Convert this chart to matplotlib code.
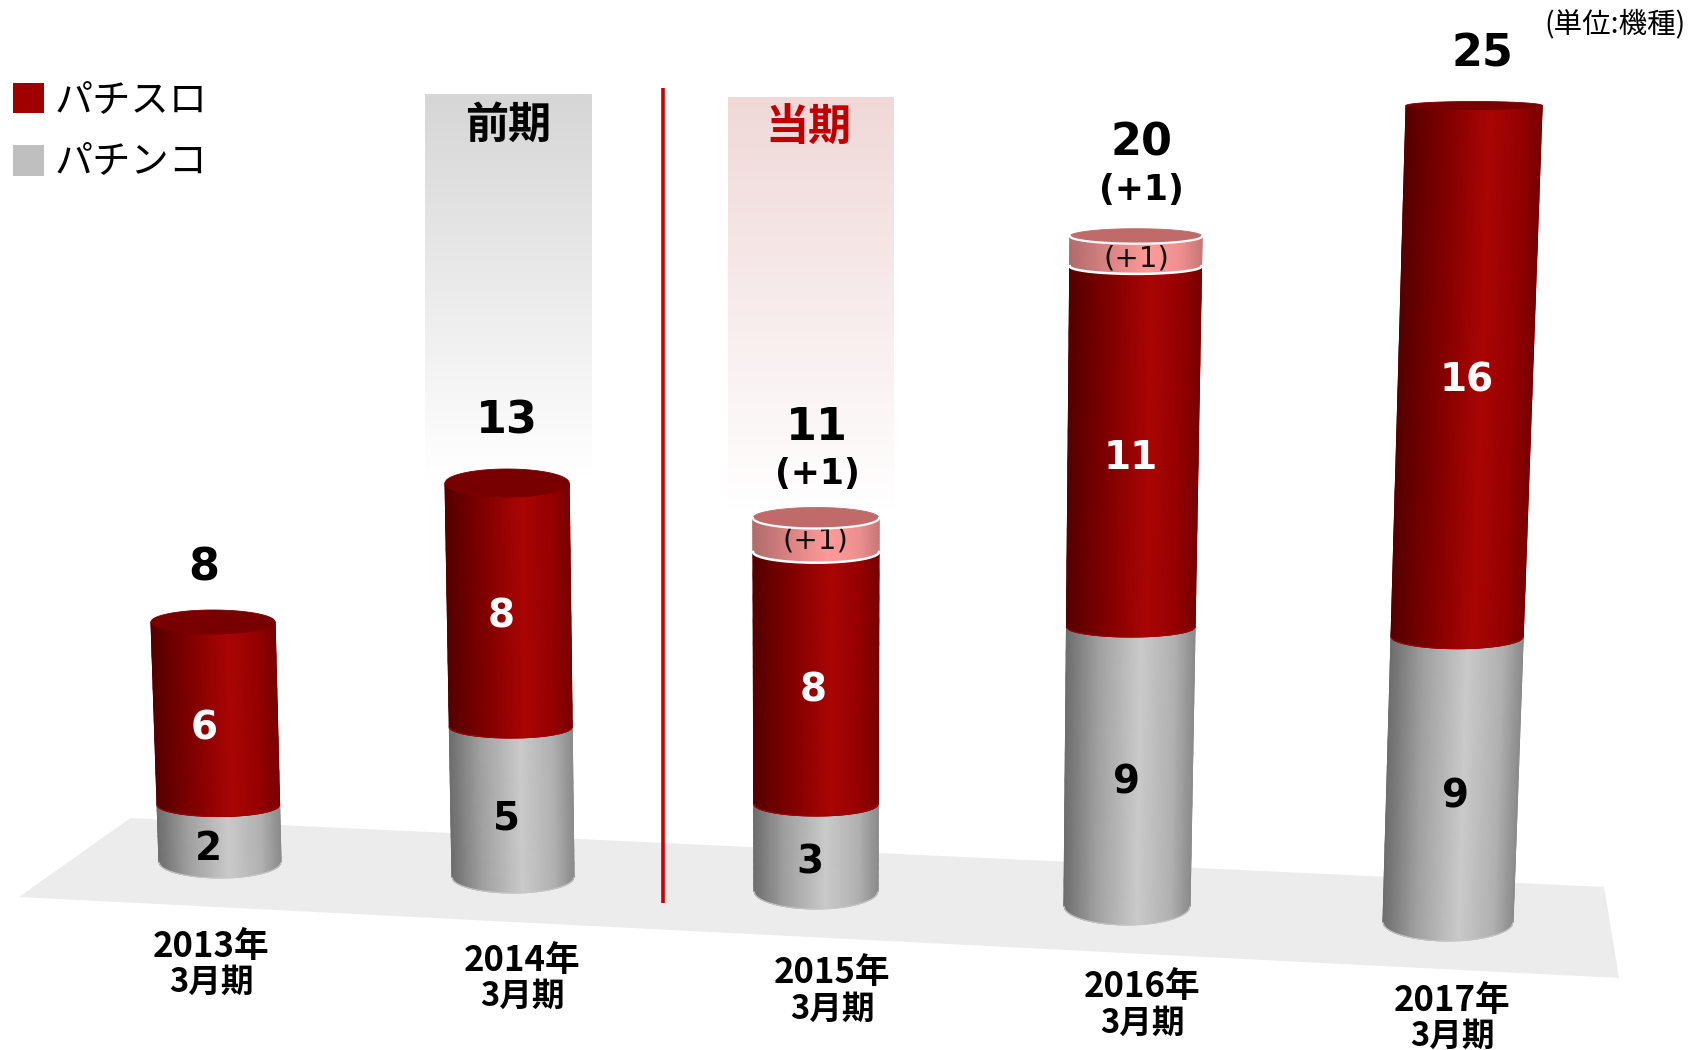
import numpy as np
import matplotlib
matplotlib.use('Agg')
import matplotlib.pyplot as plt
from matplotlib.colors import LinearSegmentedColormap
from matplotlib.patches import Rectangle

JP = ['Noto Sans CJK JP', 'DejaVu Sans']

# machine counts per fiscal year
years = ['2013年', '2014年', '2015年', '2016年', '2017年']
pachinko = [2, 5, 3, 9, 9]
pachislot = [6, 8, 8, 11, 16]
planned = [0, 0, 1, 1, 0]
totals = [8, 13, 11, 20, 25]

# cylinder geometry, the columns stand on a tilted floor
base_x = [220, 513, 816, 1127, 1448]
base_y = [862, 877, 891, 906, 922]
lean = [-0.029, -0.015, 0.0, 0.0135, 0.032]
base_rx = [61, 61, 62, 63, 65]
top_rx = [62, 62, 63, 66, 68]
base_ry = [16, 16, 18, 19, 19]
mid_ry = [11.5, 11, 12, 10, 12]
top_ry = [12, 14, 10.5, 7.5, 4]
gray_unit = [28.5, 30, 29, 31, 31.7]
red_unit = [30.5, 30.5, 31.5, 32.8, 33.2]
pink_unit = [0, 0, 34, 30, 0]

# label positions
total_pos = [(204, 568), (507, 421), (817, 428), (1141, 143), (1482, 54)]
plus_pos = [None, None, (817, 474), (1141, 190), None]
gray_pos = [(208, 849), (506, 818), (810, 863), (1126, 782), (1455, 796)]
red_pos = [(204, 729), (501, 616), (813, 690), (1131, 458), (1467, 381)]
pink_pos = [None, None, (815, 540), (1136, 258), None]
year_pos = [(211, 946), (522, 960), (832, 973), (1142, 987), (1452, 1000)]
year_gap = 36

red_cmap = LinearSegmentedColormap.from_list('r', [(0, '#550000'), (0.3, '#800000'), (0.62, '#aa0505'), (0.85, '#960000'), (1, '#7a0000')])
gray_cmap = LinearSegmentedColormap.from_list('g', [(0, '#6e6e6e'), (0.25, '#a0a0a0'), (0.58, '#cacaca'), (0.85, '#b0b0b0'), (1, '#8c8c8c')])
pink_cmap = LinearSegmentedColormap.from_list('p', [(0, '#b06c6c'), (0.3, '#dc8484'), (0.6, '#ff9a9a'), (0.85, '#ee8f8f'), (1, '#c87878')])

fig = plt.figure(figsize=(17.01, 10.5), dpi=100, facecolor='white')
ax = fig.add_axes([0, 0, 1, 1])

gray_top = [b - v * u for b, v, u in zip(base_y, pachinko, gray_unit)]
red_top = [g - v * u for g, v, u in zip(gray_top, pachislot, red_unit)]
col_top = [r - v * u for r, v, u in zip(red_top, planned, pink_unit)]


def fade_panel(x0, x1, y0, y1, colour):
    cm = LinearSegmentedColormap.from_list('f', [colour, '#ffffff'])
    ax.imshow(np.linspace(0, 1, 256).reshape(-1, 1), cmap=cm, aspect='auto',
              extent=(x0, x1, y1, y0), zorder=1)


def geom(i, y):
    # centre and radii of the column section at height y
    t = (base_y[i] - y) / (base_y[i] - col_top[i])
    cx = base_x[i] + lean[i] * (base_y[i] - y)
    rx = base_rx[i] + (top_rx[i] - base_rx[i]) * t
    ry = np.interp(-y, [-base_y[i], -gray_top[i], -col_top[i]], [base_ry[i], mid_ry[i], top_ry[i]])
    return cx, rx, ry


def front_surface(i, y_low, y_high, cmap, z):
    u = np.linspace(-1, 1, 121)
    rows = np.linspace(y_low, y_high, 12)
    X = np.zeros((len(rows), len(u)))
    Y = np.zeros_like(X)
    for k, y in enumerate(rows):
        cx, rx, ry = geom(i, y)
        X[k] = cx + rx * u
        Y[k] = y + ry * np.sqrt(1 - u ** 2)
    C = np.tile((u + 1) / 2, (len(rows), 1))
    ax.pcolormesh(X, Y, C, cmap=cmap, shading='gouraud', vmin=0, vmax=1, zorder=z)
    # soften the jagged mesh outline
    ax.plot(X[0], Y[0], color=cmap(0.55), lw=0.8, zorder=z)
    ax.plot(X[:, 0], Y[:, 0], color=cmap(0.0), lw=0.8, zorder=z)
    ax.plot(X[:, -1], Y[:, -1], color=cmap(1.0), lw=0.8, zorder=z)
    return X, Y


def cap(i, y, colour, z, edge=None):
    cx, rx, ry = geom(i, y)
    a = np.linspace(0, 2 * np.pi, 200)
    ax.fill(cx + rx * np.cos(a), y + ry * np.sin(a), color=colour, lw=0.6, zorder=z)
    if edge:
        f = np.linspace(0, np.pi, 100)
        ax.plot(cx + rx * np.cos(f), y + ry * np.sin(f), color=edge, lw=1.6, zorder=z + 0.1)


# fading period panels, divider and floor
fade_panel(425, 592, 94, 476, '#d6d6d6')
fade_panel(728, 893, 97, 510, '#f0d8d8')
ax.fill([19, 130.5, 1604, 1619], [897, 818, 887, 978], color='#ececec', lw=0, zorder=2)
ax.plot([663, 663], [88, 903], color='#cc0000', lw=2.6, solid_capstyle='butt', zorder=3)

for i in range(len(years)):
    front_surface(i, base_y[i], gray_top[i], gray_cmap, 4)
    front_surface(i, gray_top[i], red_top[i], red_cmap, 5)
    if planned[i]:
        front_surface(i, red_top[i], col_top[i], pink_cmap, 6)
        cx, rx, ry = geom(i, red_top[i])
        f = np.linspace(0, np.pi, 100)
        ax.plot(cx + rx * np.cos(f), red_top[i] + ry * np.sin(f), color='white', lw=1.8, zorder=7)
        cap(i, col_top[i], '#c06a6a', 9, edge='white')
    else:
        cap(i, red_top[i], '#780000', 7)

    ax.text(*gray_pos[i], str(pachinko[i]), color='black', fontsize=28, fontweight='bold',
            ha='center', va='center', zorder=10)
    ax.text(*red_pos[i], str(pachislot[i]), color='white', fontsize=28, fontweight='bold',
            ha='center', va='center', zorder=10)
    ax.text(*total_pos[i], str(totals[i]), color='black', fontsize=32, fontweight='bold',
            ha='center', va='center', zorder=10)
    if planned[i]:
        ax.text(*plus_pos[i], '(+%d)' % planned[i], color='black', fontsize=25, fontweight='bold',
                ha='center', va='center', zorder=10)
        ax.text(*pink_pos[i], '(+%d)' % planned[i], color='#111111', fontsize=21,
                ha='center', va='center', zorder=8)

    ax.text(year_pos[i][0], year_pos[i][1], years[i], family=JP, fontsize=25, fontweight='bold',
            ha='center', va='center', zorder=10)
    ax.text(year_pos[i][0], year_pos[i][1] + year_gap, '3月期', family=JP, fontsize=23.5, fontweight='bold',
            ha='center', va='center', zorder=10)

# period headings
ax.text(508, 125, '前期', family=JP, fontsize=31, fontweight='bold', color='black',
        ha='center', va='center', zorder=10)
ax.text(808, 128, '当期', family=JP, fontsize=31, fontweight='bold', color='#c00000',
        ha='center', va='center', zorder=10)

# legend
ax.add_patch(Rectangle((13, 83), 31, 30, color='#a00000', lw=0, zorder=10))
ax.add_patch(Rectangle((13, 145), 31, 31, color='#bfbfbf', lw=0, zorder=10))
ax.text(55, 101, 'パチスロ', family=JP, fontsize=27.5, ha='left', va='center', zorder=10)
ax.text(55, 162, 'パチンコ', family=JP, fontsize=27.5, ha='left', va='center', zorder=10)

ax.text(1686, 24, '(単位:機種)', family=JP, fontsize=20.5, ha='right', va='center', zorder=10)

ax.set_xlim(0, 1701)
ax.set_ylim(1050, 0)
ax.axis('off')

fig.savefig('out.png', dpi=100, facecolor='white')
